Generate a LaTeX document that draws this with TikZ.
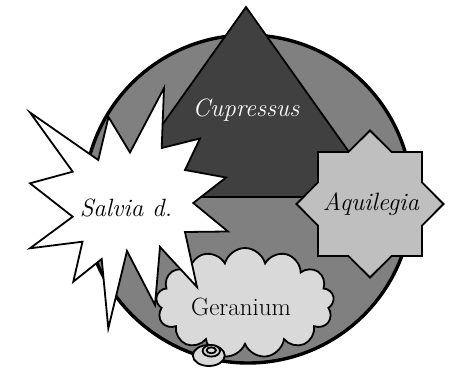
\documentclass[tikz,border=0pt]{standalone}
\usetikzlibrary{shapes.symbols}
\tikzset{
  plantname/.style={font=\fontsize{25}{30}\selectfont\itshape, inner sep=0pt, anchor=base},
  outline/.style={line width=1.8pt, draw=black, line join=miter},
}

\begin{document}
\begin{tikzpicture}[x=1pt, y=-1pt]
		%%%%% START %%%%%
		\useasboundingbox (0,0) rectangle (451,372);

		\draw[line width=3.4pt, fill=black!50] (248,199) circle (164);

		\draw[outline, fill=black!75] (246,7) -- (381,197) -- (111,197) -- cycle;
		\node[plantname, text=white] (cupressus) at (246,116.5) {Cupressus};

		\draw[outline, fill=black!25] (370,204) +(0:73.5)
			foreach \k in {1,...,15} { -- +({\k*22.5}:{isodd(\k) ? 56.3 : 73.5}) } -- cycle;
		\node[plantname] (aquilegia) at (371,210) {Aquilegia};

		\node[cloud, cloud puffs=13, cloud ignores aspect, outline, fill=black!15,
			minimum width=178pt, minimum height=110pt, inner sep=0pt] (geraniumcloud) at (245,303) {};
		\draw[outline, fill=black!15] (208.8,355.5) ellipse [x radius=16, y radius=10.5];
		\draw[outline, fill=black!15] (211.3,350.8) ellipse [x radius=8.7, y radius=5.8];
		\draw[outline, fill=black!15] (211.3,350.3) ellipse [x radius=4.7, y radius=3];
		\node[plantname, font=\fontsize{25}{30}\selectfont] (geranium) at (241,315) {Geranium};

		\draw[outline, fill=white] (164,88) -- (161.7,148) -- (200,138.5) -- (185,170)
			-- (226,177.5) -- (193.3,203) -- (228,231.5) -- (185,232) -- (197,287)
			-- (160,247) -- (155,305) -- (127,251) -- (108.3,328.3) -- (101.7,259)
			-- (73.3,281.7) -- (82.5,241.7) -- (30,248.3) -- (72.7,216.7) -- (30,183.3)
			-- (72.7,171.7) -- (30,112.5) -- (98.3,160) -- (108.5,117) -- (130,152.5) -- cycle;
		\node[plantname] (salvia) at (126,216.7) {Salvia d.};

		%%%%% END %%%%%
\end{tikzpicture}
\end{document}
